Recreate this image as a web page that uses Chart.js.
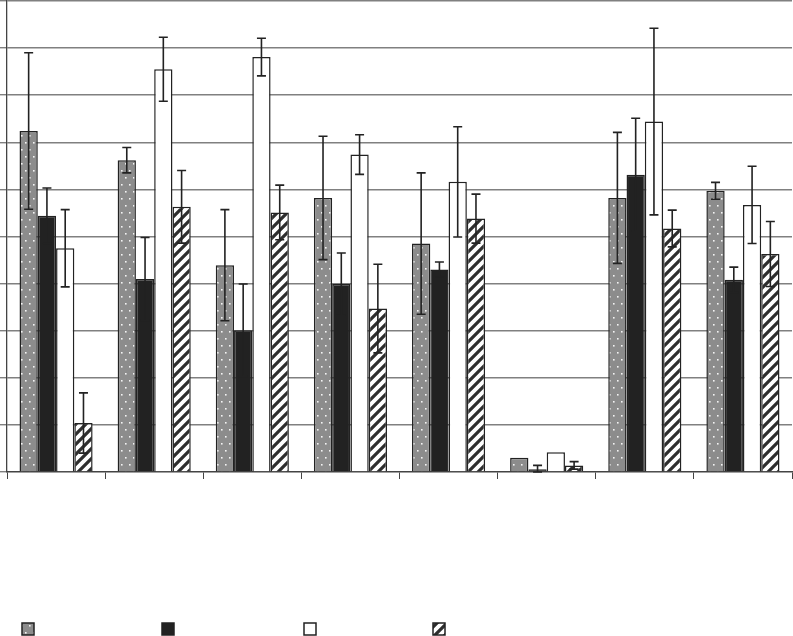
<!DOCTYPE html>
<html>
<head>
  <meta charset="UTF-8">
  <title>Bar chart</title>
  <script src="https://cdn.jsdelivr.net/npm/chart.js"></script>
  <style>
    html, body {
      margin: 0;
      padding: 0;
      background: #fff;
    }
    #wrap {
      width: 793px;
      height: 636px;
    }
  </style>
</head>
<body>
  <div id="wrap"><canvas id="barChart"></canvas></div>

  <script>
    // data (one gridline = 1 unit)
    const categories = ["1", "2", "3", "4", "5", "6", "7", "8"];
    const seriesNames = ["A", "B", "C", "D"];

    const valuesA = [7.24, 6.62, 4.39, 5.82, 4.85, 0.30, 5.82, 5.97];
    const valuesB = [5.44, 4.10, 3.01, 3.99, 4.30, 0.06, 6.31, 4.08];
    const valuesC = [4.75, 8.55, 8.81, 6.74, 6.16, 0.42, 7.44, 5.67];
    const valuesD = [1.04, 5.63, 5.51, 3.47, 5.38, 0.14, 5.17, 4.63];

    const errorsA = [1.66, 0.27, 1.18, 1.31, 1.50, 0, 1.39, 0.18];
    const errorsB = [0.59, 0.88, 0.98, 0.66, 0.16, 0.08, 1.20, 0.27];
    const errorsC = [0.82, 0.68, 0.40, 0.42, 1.17, 0, 1.98, 0.82];
    const errorsD = [0.64, 0.77, 0.58, 0.94, 0.52, 0.08, 0.39, 0.69];

    const yTicks = [0, 1, 2, 3, 4, 5, 6, 7, 8, 9, 10];

    const edge = "#222";

    function dotPattern() {
      const c = document.createElement("canvas");
      c.width = 8; c.height = 14;
      const g = c.getContext("2d");
      g.fillStyle = "#8c8c8c";
      g.fillRect(0, 0, 8, 14);
      g.fillStyle = "#f4f4f4";
      g.fillRect(1, 2, 1.6, 1.6);
      g.fillRect(5, 9, 1.6, 1.6);
      return g.createPattern(c, "repeat");
    }

    function hatchPattern() {
      const s = 10;
      const c = document.createElement("canvas");
      c.width = s; c.height = s;
      const g = c.getContext("2d");
      g.fillStyle = "#fff";
      g.fillRect(0, 0, s, s);
      g.strokeStyle = "#2e2e2e";
      g.lineWidth = 3.2;
      g.beginPath();
      g.moveTo(-2, s + 2); g.lineTo(s + 2, -2);
      g.moveTo(-2, 2); g.lineTo(2, -2);
      g.moveTo(s - 2, s + 2); g.lineTo(s + 2, s - 2);
      g.stroke();
      return g.createPattern(c, "repeat");
    }

    const fills = [dotPattern(), "#222", "#fff", hatchPattern()];
    const allValues = [valuesA, valuesB, valuesC, valuesD];
    const allErrors = [errorsA, errorsB, errorsC, errorsD];

    const errorBars = {
      id: "errorBars",
      afterDatasetsDraw(chart) {
        const ctx = chart.ctx;
        const y = chart.scales.y;
        ctx.save();
        ctx.strokeStyle = edge;
        ctx.lineWidth = 1.6;
        chart.data.datasets.forEach((ds, i) => {
          const meta = chart.getDatasetMeta(i);
          meta.data.forEach((bar, j) => {
            const e = allErrors[i][j];
            if (!e) return;
            const v = ds.data[j];
            const top = y.getPixelForValue(v + e);
            const bot = y.getPixelForValue(Math.max(0, v - e));
            const x = bar.x;
            ctx.beginPath();
            ctx.moveTo(x, top); ctx.lineTo(x, bot);
            ctx.moveTo(x - 4.5, top); ctx.lineTo(x + 4.5, top);
            ctx.moveTo(x - 4.5, bot); ctx.lineTo(x + 4.5, bot);
            ctx.stroke();
          });
        });
        ctx.restore();
      }
    };

    // legend markers only, no text in the original
    const legendBoxes = {
      id: "legendBoxes",
      afterDraw(chart) {
        const ctx = chart.ctx;
        const xs = [22, 162, 304, 433];
        const top = chart.height - 13;
        ctx.save();
        chart.data.datasets.forEach((ds, i) => {
          ctx.fillStyle = ds.backgroundColor;
          ctx.fillRect(xs[i], top, 12, 12);
          ctx.strokeStyle = edge;
          ctx.lineWidth = 1.5;
          ctx.strokeRect(xs[i], top, 12, 12);
        });
        ctx.restore();
      }
    };

    const ctx = document.getElementById("barChart").getContext("2d");
    new Chart(ctx, {
      type: "bar",
      data: {
        labels: categories,
        datasets: seriesNames.map((name, i) => ({
          label: name,
          data: allValues[i],
          backgroundColor: fills[i],
          borderColor: edge,
          borderWidth: 1.5,
          categoryPercentage: 0.745,
          barPercentage: 1
        }))
      },
      options: {
        responsive: true,
        maintainAspectRatio: false,
        animation: false,
        layout: {
          padding: { top: 1, right: 1, bottom: 157, left: 0 }
        },
        plugins: {
          legend: { display: false },
          tooltip: { enabled: false }
        },
        scales: {
          x: {
            grid: {
              display: true,
              offset: true,
              drawOnChartArea: false,
              tickLength: 7,
              color: "#444"
            },
            border: { color: "#444", width: 1.3 },
            ticks: { display: false }
          },
          y: {
            min: 0,
            max: 10,
            afterBuildTicks(axis) {
              axis.ticks = yTicks.map(v => ({ value: v }));
            },
            grid: {
              color: "#808080",
              lineWidth: 1.4,
              tickLength: 7
            },
            border: { color: "#444", width: 1.3 },
            ticks: { display: false }
          }
        }
      },
      plugins: [errorBars, legendBoxes]
    });
  </script>
</body>
</html>
